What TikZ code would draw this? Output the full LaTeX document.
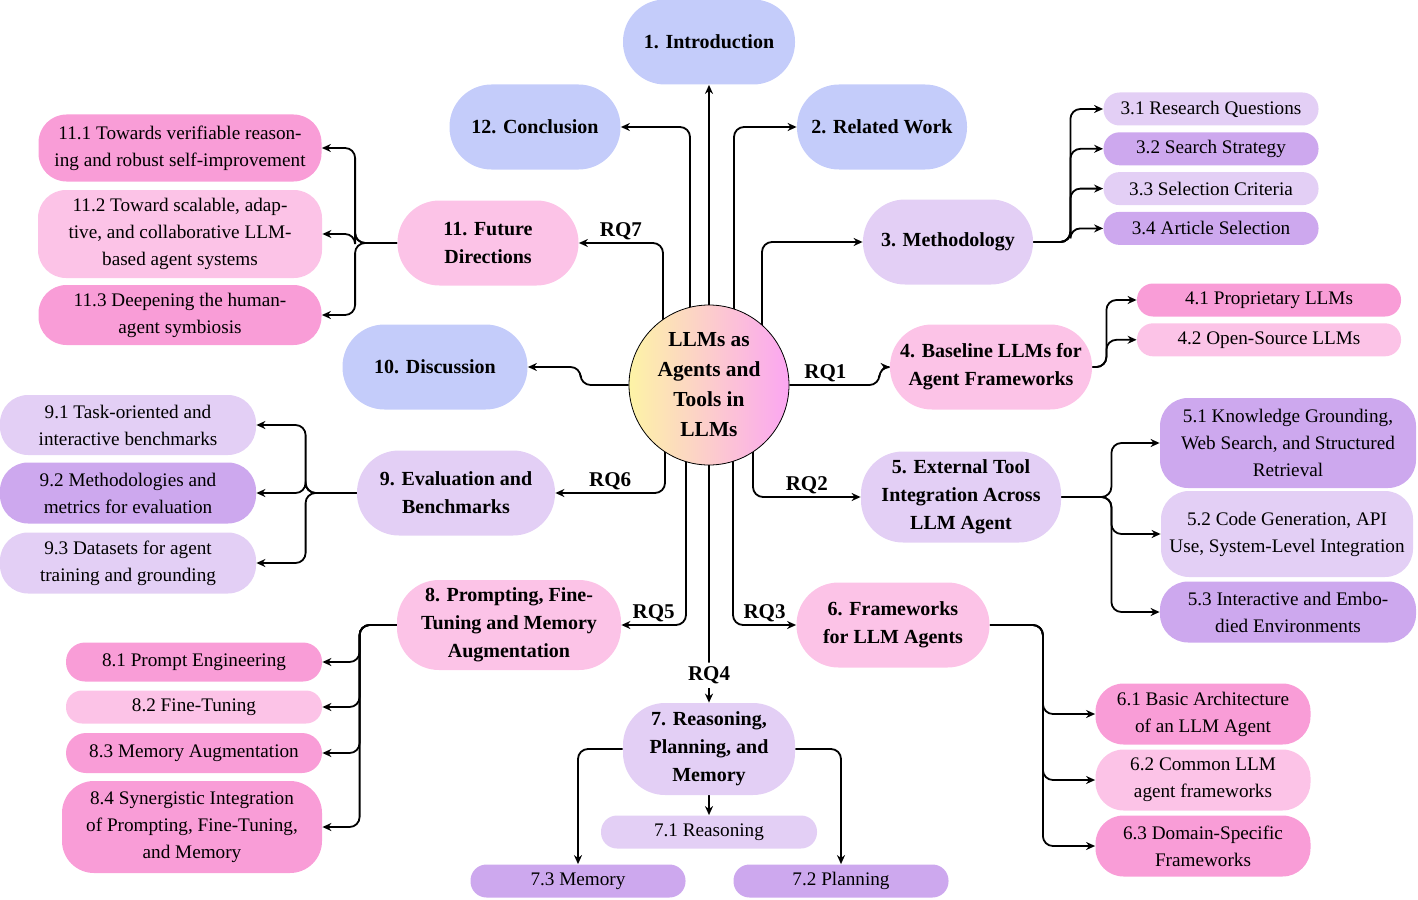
\documentclass[tikz,border=0pt]{standalone}
\usepackage{fontspec}
\setmainfont{Liberation Serif}
\usetikzlibrary{arrows.meta,positioning,calc}
\pgfdeclarelayer{bg}
\pgfsetlayers{bg,main}
\definecolor{periwinkle}{HTML}{C4CCFA}
\definecolor{lilac}{HTML}{E3CFF5}
\definecolor{violet}{HTML}{CDA8EE}
\definecolor{blush}{HTML}{FCC3E7}
\definecolor{rose}{HTML}{F99DD7}
\definecolor{sunny}{HTML}{FDF3A6}
\definecolor{orchid}{HTML}{FBA6F2}

\begin{document}
\begin{tikzpicture}[
  x=0.5pt, y=-0.5pt,
  sec/.style={rounded corners=21pt, align=center, inner sep=2pt, minimum height=42.5pt,
    font=\fontsize{10}{14}\selectfont\bfseries},
  sub/.style={rounded corners=8pt, align=center, inner sep=1pt, minimum height=16.5pt,
    font=\fontsize{9.6}{13.5}\selectfont},
  tall/.style={rounded corners=14pt},
  arrow/.style={-{Stealth[length=4.5pt,width=4pt]}, line width=0.9pt, rounded corners=5pt},
  rq/.style={font=\fontsize{10.5}{12}\selectfont\bfseries, inner sep=1pt}
]
\useasboundingbox (0,0) rectangle (1418,899);

% centre and sections
\node[circle, draw, line width=0.4pt, left color=sunny, right color=orchid, minimum size=80pt,
  inner sep=0pt, align=center, font=\fontsize{10.7}{15}\selectfont\bfseries] (hub) at (709,385)
  {LLMs as\\Agents and\\Tools in\\LLMs};
\node[sec, fill=periwinkle, minimum width=86pt] (intro) at (709,42) {1. Introduction};
\node[sec, fill=periwinkle, minimum width=85pt] (related) at (882,127) {2. Related Work};
\node[sec, fill=periwinkle, minimum width=85.5pt] (concl) at (535,127) {12. Conclusion};
\node[sec, fill=lilac, minimum width=85pt] (meth) at (948,242) {3. Methodology};
\node[sec, fill=blush, minimum width=90.5pt] (future) at (488,243) {11. Future\\Directions};
\node[sec, fill=blush, minimum width=101pt] (base) at (991,367) {4. Baseline LLMs for\\Agent Frameworks};
\node[sec, fill=periwinkle, minimum width=92.5pt] (disc) at (435,367) {10. Discussion};
\node[sec, fill=lilac, minimum width=100pt, minimum height=45.5pt] (ext) at (961,497) {5. External Tool\\Integration Across\\LLM Agent};
\node[sec, fill=lilac, minimum width=99pt] (eval) at (456,493) {9. Evaluation and\\Benchmarks};
\node[sec, fill=blush, minimum width=96.5pt] (frame) at (893,625) {6. Frameworks\\for LLM Agents};
\node[sec, fill=blush, minimum width=112pt, minimum height=45pt] (prompt) at (509,625) {8. Prompting, Fine-\\Tuning and Memory\\Augmentation};
\node[sec, fill=lilac, minimum width=86pt, minimum height=46pt] (reason) at (709,749) {7. Reasoning,\\Planning, and\\Memory};

% subsections
\node[sub, fill=lilac, minimum width=107.5pt] (s31) at (1211,109) {3.1 Research Questions};
\node[sub, fill=violet, minimum width=107.5pt, below=3pt of s31] (s32) {3.2 Search Strategy};
\node[sub, fill=lilac, minimum width=107.5pt, below=3pt of s32] (s33) {3.3 Selection Criteria};
\node[sub, fill=violet, minimum width=107.5pt, below=3pt of s33] (s34) {3.4 Article Selection};

\node[sub, fill=rose, minimum width=132pt] (s41) at (1269,300) {4.1 Proprietary LLMs};
\node[sub, fill=blush, minimum width=132pt, below=3pt of s41] (s42) {4.2 Open-Source LLMs};

\node[sub, tall, fill=violet, minimum width=128pt, minimum height=45pt] (s51) at (1288,443) {5.1 Knowledge Grounding,\\Web Search, and Structured\\Retrieval};
\node[sub, tall, fill=lilac, minimum width=126pt, minimum height=43pt] (s52) at (1287,534) {5.2 Code Generation, API\\Use, System-Level Integration};
\node[sub, tall, fill=violet, minimum width=128pt, minimum height=30.5pt] (s53) at (1288,612) {5.3 Interactive and Embo-\\died Environments};

\node[sub, tall, fill=rose, minimum width=107.5pt, minimum height=30.5pt] (s61) at (1203,714) {6.1 Basic Architecture\\of an LLM Agent};
\node[sub, tall, fill=blush, minimum width=107.5pt, minimum height=30.5pt] (s62) at (1203,780) {6.2 Common LLM\\agent frameworks};
\node[sub, tall, fill=rose, minimum width=107.5pt, minimum height=30.5pt] (s63) at (1203,846) {6.3 Domain-Specific\\Frameworks};

\node[sub, fill=lilac, minimum width=108pt] (s71) at (709,832) {7.1 Reasoning};
\node[sub, fill=violet, minimum width=107.5pt] (s72) at (841,881) {7.2 Planning};
\node[sub, fill=violet, minimum width=107.5pt] (s73) at (578,881) {7.3 Memory};

\node[sub, fill=rose, minimum width=128pt, minimum height=19.5pt, rounded corners=9.5pt] (s81) at (194,662) {8.1 Prompt Engineering};
\node[sub, fill=blush, minimum width=128pt] (s82) at (194,707) {8.2 Fine-Tuning};
\node[sub, fill=rose, minimum width=128pt, minimum height=20pt, rounded corners=10pt] (s83) at (194,753) {8.3 Memory Augmentation};
\node[sub, tall, fill=rose, minimum width=130pt, minimum height=46pt, rounded corners=16pt] (s84) at (192,827) {8.4 Synergistic Integration\\of Prompting, Fine-Tuning,\\and Memory};

\node[sub, tall, fill=lilac, minimum width=128pt, minimum height=30pt] (s91) at (128,425) {9.1 Task-oriented and\\interactive benchmarks};
\node[sub, tall, fill=violet, minimum width=128pt, minimum height=30.5pt] (s92) at (128,493) {9.2 Methodologies and\\metrics for evaluation};
\node[sub, tall, fill=lilac, minimum width=128pt, minimum height=30.5pt] (s93) at (128,563) {9.3 Datasets for agent\\training and grounding};

\node[sub, tall, fill=rose, minimum width=141.5pt, minimum height=33.5pt] (s111) at (180,148) {11.1 Towards verifiable reason-\\ing and robust self-improvement};
\node[sub, tall, fill=blush, minimum width=142pt, minimum height=44pt] (s112) at (180,234) {11.2 Toward scalable, adap-\\tive, and collaborative LLM-\\based agent systems};
\node[sub, tall, fill=rose, minimum width=141.5pt, minimum height=30pt] (s113) at (180,315) {11.3 Deepening the human-\\agent symbiosis};

% connectors
\begin{pgfonlayer}{bg}
\draw[arrow] (hub) -- (intro);
\draw[arrow] ($(hub)+(-19,0)$) |- (concl);
\draw[arrow] ($(hub)+(25,0)$) |- (related);
\draw[arrow] ($(hub)+(-46,0)$) |- node[rq, above, pos=0.75] {RQ7} (future);
\draw[arrow] ($(hub)+(53,0)$) |- (meth);
\draw[arrow] (hub.west) -- ++(-48,0) |- (disc);
\draw[arrow] (hub.east) -- node[rq, above, pos=0.4] {RQ1} ++(90,0) |- (base);
\draw[arrow] ($(hub)+(44,0)$) |- node[rq, above, pos=0.75] {RQ2} (ext);
\draw[arrow] ($(hub)+(-44,0)$) |- node[rq, above, pos=0.75] {RQ6} (eval);
\draw[arrow] ($(hub)+(-23,0)$) |- node[rq, above, pos=0.75] {RQ5} (prompt);
\draw[arrow] ($(hub)+(24,0)$) |- node[rq, above, pos=0.75] {RQ3} (frame);
\draw[arrow] (hub) -- node[rq, fill=white, inner sep=2pt, pos=0.885] {RQ4} (reason);

\foreach \s in {s31,s32,s33,s34}
  \draw[arrow] (meth.east) -- ++(37,0) |- (\s);
\foreach \s in {s41,s42}
  \draw[arrow] (base.east) -- ++(14,0) |- (\s);
\foreach \s in {s51,s52,s53}
  \draw[arrow] (ext.east) -- ++(50,0) |- (\s);
\foreach \s in {s61,s62,s63}
  \draw[arrow] (frame.east) -- ++(53,0) |- (\s);
\draw[arrow] (reason) -- (s71);
\draw[arrow] (reason.east) -| (s72);
\draw[arrow] (reason.west) -| (s73);
\foreach \s in {s81,s82,s83,s84}
  \draw[arrow] (prompt.west) -- ++(-37,0) |- (\s);
\foreach \s in {s91,s92,s93}
  \draw[arrow] (eval.west) -- ++(-51,0) |- (\s);
\foreach \s in {s111,s112,s113}
  \draw[arrow] (future.west) -- ++(-42,0) |- (\s);
\end{pgfonlayer}
\end{tikzpicture}
\end{document}
